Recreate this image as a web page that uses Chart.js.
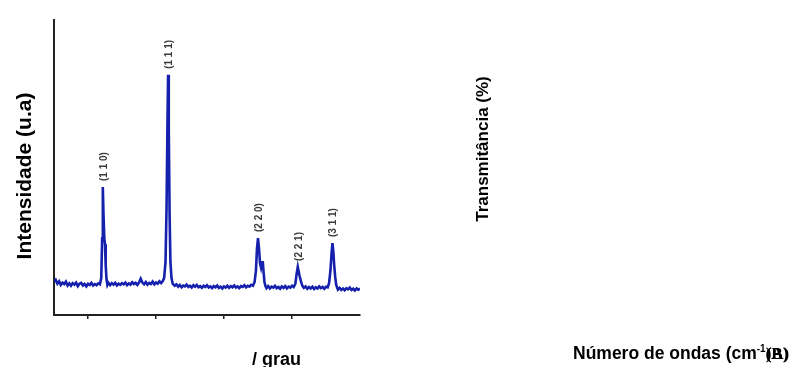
<!DOCTYPE html>
<html>
<head>
<meta charset="utf-8">
<script src="https://cdn.jsdelivr.net/npm/chart.js@4.4.1/dist/chart.umd.min.js"></script>
<style>
  html, body { margin: 0; padding: 0; background: #fff; }
  #xrd { display: block; }
</style>
</head>
<body>
<canvas id="xrd" width="797" height="367"></canvas>
<script>
// XRD pattern (2θ in degrees, intensity in arbitrary units)
const twoTheta = [
  15.00, 15.25, 15.50, 15.75, 16.00, 16.25, 16.50, 16.75, 17.00, 17.25,
  17.50, 17.75, 18.00, 18.25, 18.50, 18.75, 19.00, 19.25, 19.50, 19.75,
  20.00, 20.25, 20.50, 20.75, 21.00, 21.25, 21.50, 21.75,
  21.95, 22.08, 22.18, 22.28, 22.40, 22.50, 22.60, 22.72, 22.85,
  23.00, 23.25, 23.50, 23.75, 24.00, 24.25, 24.50, 24.75, 25.00, 25.25,
  25.50, 25.75, 26.00, 26.25, 26.50, 26.75, 27.00, 27.25, 27.50, 27.75,
  28.00, 28.25, 28.50, 28.75, 29.00, 29.25, 29.50, 29.75, 30.00, 30.25,
  30.50, 30.75, 31.00,
  31.20, 31.40, 31.55, 31.68, 31.78, 31.88, 32.00, 32.12, 32.28, 32.45,
  32.75, 33.00, 33.25, 33.50, 33.75, 34.00, 34.25, 34.50, 34.75, 35.00,
  35.25, 35.50, 35.75, 36.00, 36.25, 36.50, 36.75, 37.00, 37.25, 37.50,
  37.75, 38.00, 38.25, 38.50, 38.75, 39.00, 39.25, 39.50, 39.75, 40.00,
  40.25, 40.50, 40.75, 41.00, 41.25, 41.50, 41.75, 42.00, 42.25, 42.50,
  42.75, 43.00, 43.25, 43.50, 43.75, 44.00, 44.25,
  44.50, 44.70, 44.85, 45.00, 45.15, 45.30, 45.45, 45.60, 45.70, 45.82, 45.95, 46.10,
  46.25, 46.50, 46.75, 47.00, 47.25, 47.50, 47.75, 48.00, 48.25, 48.50,
  48.75, 49.00, 49.25, 49.50, 49.75, 50.00, 50.25,
  50.50, 50.68, 50.85, 50.98, 51.10, 51.25, 51.40, 51.55,
  51.75, 52.00, 52.25, 52.50, 52.75, 53.00, 53.25, 53.50, 53.75, 54.00,
  54.25, 54.50, 54.75, 55.00, 55.25,
  55.45, 55.65, 55.82, 55.95, 56.08, 56.20, 56.35, 56.50,
  56.75, 57.00, 57.25, 57.50, 57.75, 58.00, 58.25, 58.50, 58.75, 59.00,
  59.25, 59.50, 59.75, 60.00
];
const intensity = [
  11.3, 11.9, 10.6, 11.4, 10.2, 11.0, 10.5, 11.3, 10.0, 10.7,
  9.9, 10.8, 10.3, 11.0, 9.8, 10.6, 10.9, 10.0, 10.5, 9.7,
  10.6, 10.2, 10.9, 10.0, 10.5, 10.1, 10.7, 10.4,
  12.5, 26.0, 43.4, 34.0, 26.0, 24.0, 17.0, 12.2, 10.2,
  10.9, 10.1, 10.8, 10.3, 10.9, 10.0, 10.6, 10.2, 10.8, 10.4,
  11.0, 10.1, 10.7, 10.3, 11.1, 10.5, 10.9, 10.2, 11.0, 12.3,
  11.0, 10.4, 11.2, 10.3, 10.9, 10.5, 11.3, 10.4, 11.0, 10.6,
  11.4, 10.8, 11.5,
  12.6, 18.0, 36.0, 64.0, 81.4, 63.0, 34.0, 18.0, 12.5, 10.6,
  9.9, 10.4, 9.6, 10.2, 9.4, 10.0, 9.7, 10.3, 9.5, 9.9,
  9.3, 10.1, 9.6, 10.2, 9.4, 9.8, 9.2, 9.9, 9.5, 10.1,
  9.3, 9.7, 9.1, 9.8, 9.4, 10.0, 9.2, 9.6, 9.0, 9.7,
  9.3, 9.9, 9.2, 9.8, 9.4, 10.0, 9.3, 9.7, 9.1, 9.8,
  9.5, 10.1, 9.4, 9.9, 9.6, 10.2, 9.9,
  11.2, 15.0, 22.5, 26.1, 22.5, 17.5, 16.0, 17.8, 18.3, 14.5, 11.2, 9.8,
  9.1, 9.8, 9.0, 9.6, 9.3, 9.9, 9.1, 9.5, 8.9, 9.7,
  9.2, 9.8, 9.0, 9.6, 9.3, 9.9, 9.5,
  10.6, 14.0, 16.3, 14.8, 13.4, 12.0, 10.7, 9.8,
  9.2, 9.7, 8.9, 9.5, 9.0, 9.6, 8.8, 9.4, 9.0, 9.7,
  9.1, 9.5, 8.9, 9.6, 9.4,
  10.8, 15.0, 21.0, 24.4, 21.5, 17.0, 13.0, 10.2,
  8.6, 9.2, 8.5, 9.0, 8.4, 9.1, 8.7, 9.3, 8.5, 8.9,
  8.3, 9.0, 8.6, 8.9
];

// Miller indices of the indexed reflections
const peakLabels = ['(1 1 0)', '(1 1 1)', '(2 2 0)', '(2 2 1)', '(3 1 1)'];
const peakAngles = [22.18, 31.78, 45.00, 50.85, 55.95];
const peakHeights = [43.4, 81.4, 26.1, 16.3, 24.4];

const xTickValues = [20, 30, 40, 50];

const FONT = '"Liberation Sans", Arial, sans-serif';

// Peak annotations + axis titles + the empty FTIR panel texts
const textPlugin = {
    id: 'texts',
    afterDraw(chart) {
        const ctx = chart.ctx;
        const xs = chart.scales.x;
        const ys = chart.scales.y;

        ctx.save();
        ctx.fillStyle = '#3a3a3a';
        ctx.font = 'bold 10px ' + FONT;
        ctx.textAlign = 'left';
        ctx.textBaseline = 'middle';
        peakLabels.forEach((lbl, i) => {
            const px = xs.getPixelForValue(peakAngles[i]) + 1;
            const py = ys.getPixelForValue(peakHeights[i]) - 6;
            ctx.save();
            ctx.translate(px, py);
            ctx.rotate(-Math.PI / 2);
            ctx.fillText(lbl, 0, 0);
            ctx.restore();
        });
        ctx.restore();

        ctx.save();
        ctx.fillStyle = '#000';
        ctx.textBaseline = 'alphabetic';

        // y title left panel
        ctx.font = 'bold 21px ' + FONT;
        ctx.textAlign = 'center';
        ctx.save();
        ctx.translate(31, 176);
        ctx.rotate(-Math.PI / 2);
        ctx.fillText('Intensidade (u.a)', 0, 0);
        ctx.restore();

        // x title left panel
        ctx.font = 'bold 18px ' + FONT;
        ctx.textAlign = 'left';
        ctx.fillText('/ grau', 252, 365);

        // right panel (no data)
        ctx.font = 'bold 17px ' + FONT;
        ctx.textAlign = 'center';
        ctx.save();
        ctx.translate(488, 149);
        ctx.rotate(-Math.PI / 2);
        ctx.fillText('Transmitância (%)', 0, 0);
        ctx.restore();

        ctx.textAlign = 'left';
        ctx.font = 'bold 17.5px ' + FONT;
        const main = 'Número de ondas (cm';
        ctx.fillText(main, 573, 359);
        let x = 573 + ctx.measureText(main).width;
        ctx.font = 'bold 10px ' + FONT;
        ctx.fillText('-1', x, 352);
        x += ctx.measureText('-1').width;

        ctx.font = 'bold 17px "Liberation Serif", serif';
        ctx.fillText(')', x, 359);
        ctx.fillText('(A)', x, 359);
        ctx.fillText('(B)', x, 359);
        ctx.restore();
    }
};

new Chart(document.getElementById('xrd'), {
    type: 'line',
    data: {
        datasets: [{
            data: twoTheta.map((t, i) => ({ x: t, y: intensity[i] })),
            borderColor: '#1520ad',
            borderWidth: 2.6,
            pointRadius: 0,
            tension: 0,
            fill: false
        }]
    },
    options: {
        responsive: false,
        animation: false,
        layout: { padding: { left: 54, top: 20, right: 437, bottom: 48 } },
        plugins: { legend: { display: false }, tooltip: { enabled: false } },
        scales: {
            x: {
                type: 'linear',
                min: 15,
                max: 60,
                afterBuildTicks: s => { s.ticks = xTickValues.map(v => ({ value: v })); },
                afterFit: s => { s.height = 4; },
                ticks: { display: false },
                grid: { display: true, drawOnChartArea: false, drawTicks: true, tickLength: 4, color: '#222', lineWidth: 1.5 },
                border: { display: true, color: '#222', width: 2 }
            },
            y: {
                min: 0,
                max: 100,
                afterFit: s => { s.width = 0; },
                ticks: { display: false },
                grid: { display: false },
                border: { display: true, color: '#222', width: 2 }
            }
        }
    },
    plugins: [textPlugin]
});
</script>
</body>
</html>
